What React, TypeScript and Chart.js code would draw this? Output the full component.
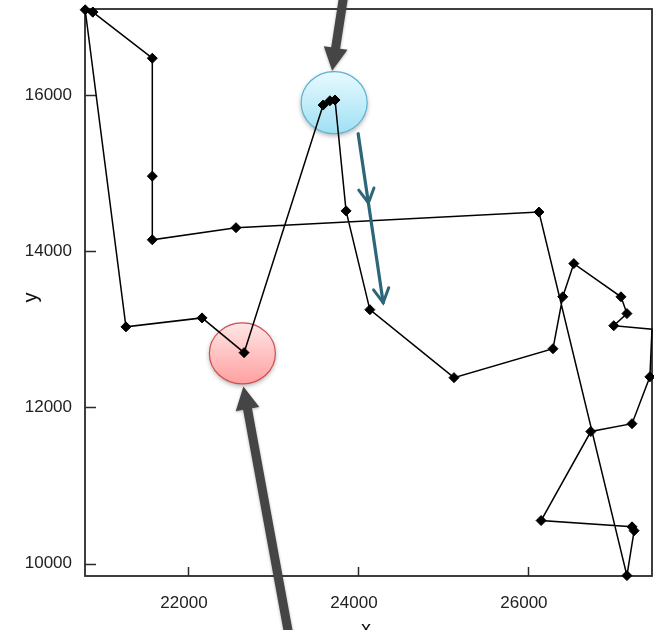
import React, { useEffect, useRef } from "react";
import { Chart, registerables } from "chart.js";

Chart.register(...registerables);

// Tour through the cities (closed path)
const routeX = [20880, 21580, 21580, 21580, 22565, 26130, 27165, 27250, 27225, 26155, 26740, 27225, 27435, 27460, 27010, 27165, 27095, 26540, 26410, 26295, 25130, 24140, 23860, 23730, 23670, 23590, 22660, 22165, 21270, 20790, 20880];
const routeY = [17060, 16470, 14960, 14145, 14300, 14500, 9845, 10420, 10470, 10550, 11690, 11790, 12390, 13000, 13045, 13200, 13415, 13840, 13415, 12750, 12380, 13250, 14515, 15935, 15925, 15870, 12700, 13145, 13030, 17090, 17060];
// index 13 is where the path leaves the visible frame (no marker there)
const hiddenMarkers = [13];

const xTicks = [22000, 24000, 26000];
const yTicks = [10000, 12000, 14000, 16000];
const xRange = [20788, 27460];
const yRange = [9840, 17100];
const xTitle = "x";
const yTitle = "y";

// highlighted spots (data coordinates)
const blueSpot = [23720, 15900];
const redSpot = [22640, 12690];

const FONT = '"Liberation Sans", Arial, Helvetica, sans-serif';

function drawSpot(ctx, cx, cy, rx, ry, top, bottom, stroke) {
  ctx.save();
  ctx.shadowColor = "rgba(0,0,0,0.35)";
  ctx.shadowBlur = 5;
  ctx.shadowOffsetY = 2;
  const g = ctx.createLinearGradient(0, cy - ry, 0, cy + ry);
  g.addColorStop(0, top);
  g.addColorStop(1, bottom);
  ctx.beginPath();
  ctx.ellipse(cx, cy, rx, ry, 0, 0, Math.PI * 2);
  ctx.fillStyle = g;
  ctx.fill();
  ctx.shadowColor = "transparent";
  ctx.lineWidth = 1.2;
  ctx.strokeStyle = stroke;
  ctx.stroke();
  ctx.restore();
}

function drawBlockArrow(ctx, x0, y0, x1, y1, shaftW, headW, headL, color) {
  const dx = x1 - x0, dy = y1 - y0;
  const len = Math.hypot(dx, dy);
  const ux = dx / len, uy = dy / len;
  const px = -uy, py = ux;
  const bx = x1 - ux * headL, by = y1 - uy * headL;
  ctx.save();
  ctx.shadowColor = "rgba(0,0,0,0.3)";
  ctx.shadowBlur = 3;
  ctx.shadowOffsetY = 1;
  ctx.fillStyle = color;
  ctx.beginPath();
  ctx.moveTo(x0 + px * shaftW / 2, y0 + py * shaftW / 2);
  ctx.lineTo(bx + px * shaftW / 2, by + py * shaftW / 2);
  ctx.lineTo(bx + px * headW / 2, by + py * headW / 2);
  ctx.lineTo(x1, y1);
  ctx.lineTo(bx - px * headW / 2, by - py * headW / 2);
  ctx.lineTo(bx - px * shaftW / 2, by - py * shaftW / 2);
  ctx.lineTo(x0 - px * shaftW / 2, y0 - py * shaftW / 2);
  ctx.closePath();
  ctx.fill();
  ctx.restore();
}

function drawChevron(ctx, tx, ty, ux, uy, arm, color) {
  const ang = Math.atan2(uy, ux);
  ctx.save();
  ctx.strokeStyle = color;
  ctx.lineWidth = 3;
  ctx.lineCap = "round";
  ctx.beginPath();
  ctx.moveTo(tx - arm * Math.cos(ang - 0.5), ty - arm * Math.sin(ang - 0.5));
  ctx.lineTo(tx, ty);
  ctx.lineTo(tx - arm * Math.cos(ang + 0.5), ty - arm * Math.sin(ang + 0.5));
  ctx.stroke();
  ctx.restore();
}

const overlayPlugin = {
  id: "overlay",
  beforeDatasetsDraw(chart) {
    const { ctx, chartArea: a, scales } = chart;
    const xs = scales.x, ys = scales.y;
    // frame
    ctx.save();
    ctx.strokeStyle = "#2a2a2a";
    ctx.lineWidth = 1.8;
    ctx.strokeRect(a.left, a.top, a.right - a.left, a.bottom - a.top);
    ctx.lineWidth = 1.5;
    ctx.beginPath();
    xTicks.forEach((v) => {
      const p = Math.round(xs.getPixelForValue(v)) + 0.5;
      ctx.moveTo(p, a.bottom);
      ctx.lineTo(p, a.bottom - 9);
    });
    yTicks.forEach((v) => {
      const p = Math.round(ys.getPixelForValue(v)) + 0.5;
      ctx.moveTo(a.left, p);
      ctx.lineTo(a.left + 11, p);
    });
    ctx.stroke();
    ctx.restore();
    // highlighted spots
    drawSpot(ctx, xs.getPixelForValue(blueSpot[0]), ys.getPixelForValue(blueSpot[1]), 33, 31, "#e8fafe", "#9fe0f4", "#5ab4d2");
    drawSpot(ctx, xs.getPixelForValue(redSpot[0]), ys.getPixelForValue(redSpot[1]), 33, 30.5, "#ffe6e6", "#ffa0a0", "#cf4f4f");
  },
  afterDraw(chart) {
    const { ctx, scales } = chart;
    const xs = scales.x, ys = scales.y;
    const bx = xs.getPixelForValue(blueSpot[0]);
    const by = ys.getPixelForValue(blueSpot[1]);
    const rx = xs.getPixelForValue(redSpot[0]);
    const ry = ys.getPixelForValue(redSpot[1]);
    // grey arrows pointing at the spots
    drawBlockArrow(ctx, bx + 10, by - 110, bx - 2, by - 32, 9, 24, 23, "#454545");
    drawBlockArrow(ctx, rx + 48, ry + 290, rx + 1, ry + 33, 9, 24, 23, "#454545");
    // teal direction arrow
    const t0x = bx + 24, t0y = by + 31;
    const t1x = bx + 49, t1y = by + 200;
    const len = Math.hypot(t1x - t0x, t1y - t0y);
    const ux = (t1x - t0x) / len, uy = (t1y - t0y) / len;
    const teal = "#2c6679";
    ctx.save();
    ctx.strokeStyle = teal;
    ctx.lineWidth = 3.2;
    ctx.lineCap = "round";
    ctx.beginPath();
    ctx.moveTo(t0x, t0y);
    ctx.lineTo(t1x, t1y);
    ctx.stroke();
    ctx.restore();
    drawChevron(ctx, t0x + ux * 70, t0y + uy * 70, ux, uy, 16, teal);
    drawChevron(ctx, t1x, t1y, ux, uy, 16, teal);
    // axis titles
    ctx.save();
    ctx.fillStyle = "#111";
    ctx.font = `20px ${FONT}`;
    ctx.textAlign = "center";
    ctx.textBaseline = "alphabetic";
    ctx.fillText(xTitle, 366, 635);
    ctx.translate(37, 297.5);
    ctx.rotate(-Math.PI / 2);
    ctx.fillText(yTitle, 0, 0);
    ctx.restore();
  },
};

function zeroPadding(s) {
  s.paddingTop = 0;
  s.paddingBottom = 0;
  s.paddingLeft = 0;
  s.paddingRight = 0;
}

export default function App() {
  const ref = useRef(null);
  useEffect(() => {
    const points = routeX.map((x, i) => ({ x, y: routeY[i] }));
    const radii = routeX.map((_, i) => (hiddenMarkers.includes(i) ? 0 : 5));
    const chart = new Chart(ref.current, {
      type: "scatter",
      data: {
        datasets: [
          {
            data: points,
            showLine: true,
            borderColor: "#000",
            borderWidth: 1.5,
            backgroundColor: "#000",
            pointBackgroundColor: "#000",
            pointBorderColor: "#000",
            pointBorderWidth: 1,
            pointStyle: "rectRot",
            pointRadius: radii,
            tension: 0,
            clip: false,
          },
        ],
      },
      options: {
        responsive: false,
        animation: false,
        layout: { autoPadding: false, padding: { top: 9, right: 2, left: 0, bottom: 0 } },
        plugins: { legend: { display: false }, tooltip: { enabled: false } },
        events: [],
        scales: {
          x: {
            type: "linear",
            min: xRange[0],
            max: xRange[1],
            grid: { display: false, drawTicks: false },
            border: { display: false },
            afterFit: (s) => { s.height = 54; zeroPadding(s); },
            afterBuildTicks: (s) => { s.ticks = xTicks.map((v) => ({ value: v })); },
            ticks: {
              padding: 17,
              labelOffset: -4,
              maxRotation: 0,
              color: "#222",
              font: { family: FONT, size: 17 },
              callback: (v) => String(v),
            },
          },
          y: {
            type: "linear",
            min: yRange[0],
            max: yRange[1],
            grid: { display: false, drawTicks: false },
            border: { display: false },
            afterFit: (s) => { s.width = 85; zeroPadding(s); },
            afterBuildTicks: (s) => { s.ticks = yTicks.map((v) => ({ value: v })); },
            ticks: {
              padding: 13,
              color: "#222",
              font: { family: FONT, size: 17 },
              callback: (v) => String(v),
            },
          },
        },
      },
      plugins: [overlayPlugin],
    });
    return () => chart.destroy();
  }, []);
  return (
    <div style={{ position: "absolute", left: 0, top: 0, width: 654, height: 630, background: "#fff" }}>
      <canvas ref={ref} width={654} height={630} style={{ display: "block" }} />
    </div>
  );
}
